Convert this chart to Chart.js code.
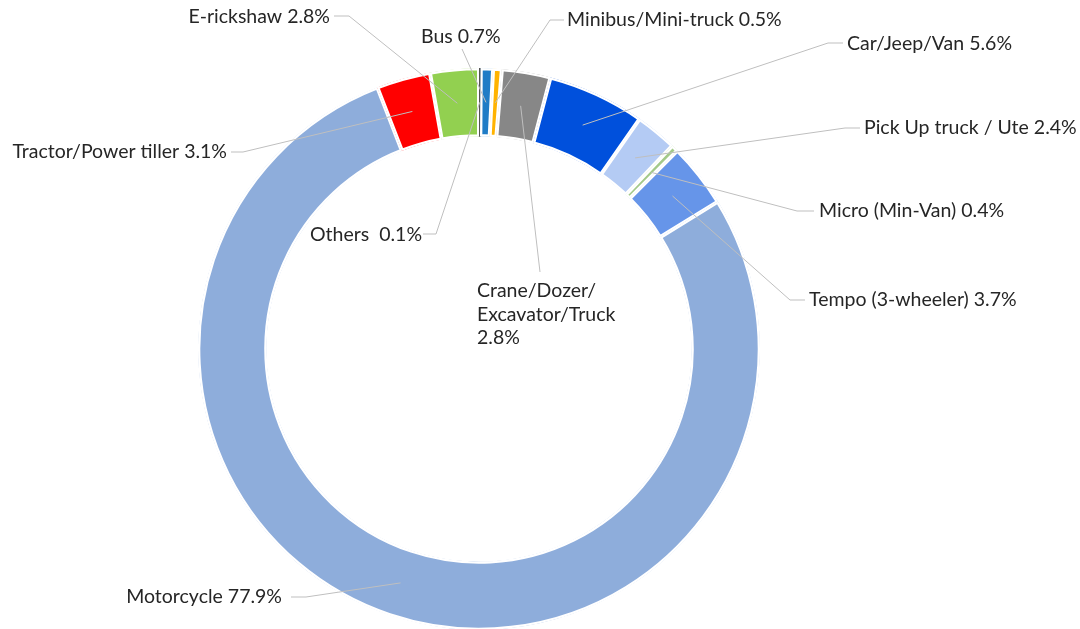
<!DOCTYPE html>
<html>
<head>
<meta charset="utf-8">
<script src="https://cdn.jsdelivr.net/npm/chart.js@4/dist/chart.umd.min.js"></script>
<style>
  html, body { margin: 0; padding: 0; background: #fff; }
  #wrap { width: 1080px; height: 629px; position: relative; }
</style>
</head>
<body>
<div id="wrap"><canvas id="chart"></canvas></div>
<script>
// Vehicle categories, clockwise from 12 o'clock
const categories = [
    'Others', 'Bus', 'Minibus/Mini-truck', 'Crane/Dozer/\nExcavator/Truck',
    'Car/Jeep/Van', 'Pick Up truck / Ute', 'Micro (Min-Van)', 'Tempo (3-wheeler)',
    'Motorcycle', 'Tractor/Power tiller', 'E-rickshaw'
];
const shares = [0.1, 0.7, 0.5, 2.8, 5.6, 2.4, 0.4, 3.7, 77.9, 3.1, 2.8];
const sliceColors = [
    '#000000', '#1f7cc6', '#ffb300', '#878787', '#0050dc', '#b4cbf4',
    '#a3c98a', '#6695e9', '#8eaddb', '#ff0000', '#92d050'
];

// Label placement (text anchor + leader line points towards the slice)
const labelLayout = [
    { x: 310, y: 235, align: 'left',  sep: '  ', line: [[423, 234], [436, 234]] },
    { x: 421, y: 37,  align: 'left',  sep: ' ',  line: [[462, 49]] },
    { x: 567, y: 20,  align: 'left',  sep: ' ',  line: [[564, 20], [550, 20]] },
    { x: 477, y: 291, align: 'left',  sep: '\n', line: [[540, 272]] },
    { x: 847, y: 44,  align: 'left',  sep: ' ',  line: [[843, 43], [828, 43]] },
    { x: 864, y: 128, align: 'left',  sep: ' ',  line: [[860, 128], [845, 128]] },
    { x: 819, y: 211, align: 'left',  sep: ' ',  line: [[814, 211], [797, 211]] },
    { x: 809, y: 300, align: 'left',  sep: ' ',  line: [[805, 300], [790, 300]] },
    { x: 282, y: 597, align: 'right', sep: ' ',  line: [[291, 597], [306, 597]] },
    { x: 227, y: 152, align: 'right', sep: ' ',  line: [[231, 152], [243, 152]] },
    { x: 330, y: 17,  align: 'right', sep: ' ',  line: [[334, 16], [349, 16]] }
];

const labelFont = '19.5px Lato';
const lineHeight = 23.5;

const leaderLabels = {
    id: 'leaderLabels',
    afterDatasetsDraw(chart) {
        const ctx = chart.ctx;
        const arcs = chart.getDatasetMeta(0).data;
        ctx.save();
        labelLayout.forEach(function(lay, i) {
            const p = arcs[i].getCenterPoint();
            ctx.strokeStyle = '#bfbfbf';
            ctx.lineWidth = 1;
            ctx.beginPath();
            ctx.moveTo(lay.line[0][0], lay.line[0][1]);
            for (let k = 1; k < lay.line.length; k++) {
                ctx.lineTo(lay.line[k][0], lay.line[k][1]);
            }
            ctx.lineTo(p.x, p.y);
            ctx.stroke();

            const text = categories[i] + lay.sep + shares[i].toFixed(1) + '%';
            ctx.fillStyle = '#262626';
            ctx.font = labelFont;
            ctx.textAlign = lay.align;
            ctx.textBaseline = 'middle';
            text.split('\n').forEach(function(t, j) {
                ctx.fillText(t, lay.x, lay.y + j * lineHeight);
            });
        });
        ctx.restore();
    }
};

const ctx = document.getElementById('chart').getContext('2d');
const chart = new Chart(ctx, {
    type: 'doughnut',
    data: {
        labels: categories,
        datasets: [{
            data: shares,
            backgroundColor: sliceColors,
            borderColor: sliceColors.map(function(c, i) { return i === 0 ? '#000000' : '#ffffff'; }),
            borderWidth: 2,
            borderAlign: 'inner'
        }]
    },
    options: {
        responsive: true,
        maintainAspectRatio: false,
        animation: false,
        radius: 281,
        cutout: '75.6%',
        layout: {
            padding: { left: 0, right: 122, top: 69, bottom: 0 }
        },
        plugins: {
            legend: { display: false },
            tooltip: { enabled: false }
        }
    },
    plugins: [leaderLabels]
});
</script>
</body>
</html>
